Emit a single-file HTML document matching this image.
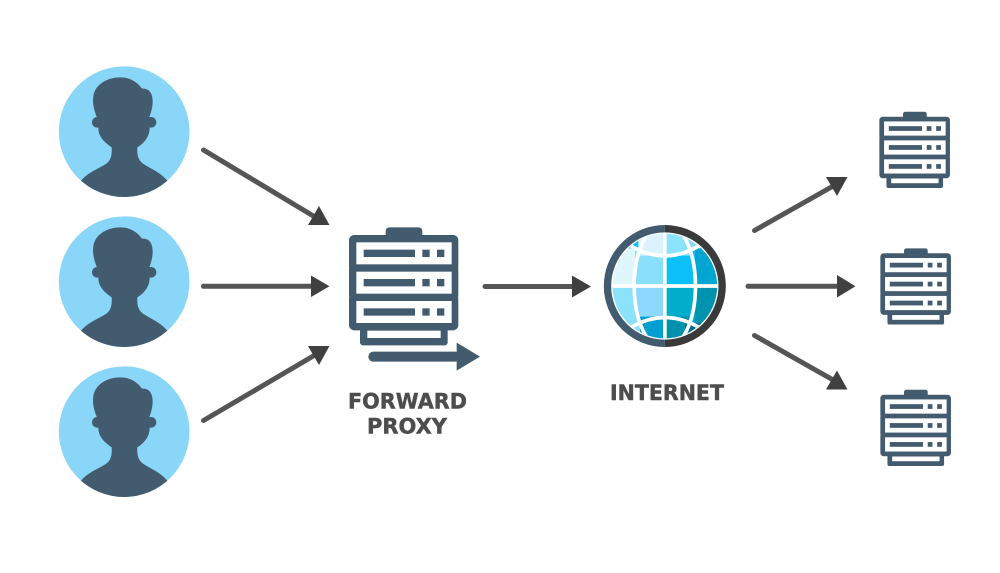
<!DOCTYPE html>
<html>
<head>
<meta charset="utf-8">
<style>
html,body{margin:0;padding:0;background:#fff;width:1000px;height:573px;overflow:hidden}
svg{display:block}
text{font-family:"DejaVu Sans","Liberation Sans",sans-serif;font-weight:bold;fill:#4d4d4d;stroke:#4d4d4d;stroke-width:0.45px;font-size:21.5px}
</style>
</head>
<body>
<svg width="1000" height="573" viewBox="0 0 1000 573" xmlns="http://www.w3.org/2000/svg">
<defs>
<clipPath id="pc"><circle cx="222.5" cy="215" r="196"/></clipPath>
<g id="person">
  <circle cx="222.5" cy="215" r="196" fill="#8ad6f8"/>
  <g clip-path="url(#pc)" fill="#435b6f">
    <circle cx="142" cy="187" r="16"/>
    <circle cx="303" cy="187" r="16"/>
    <path d="M93 362C115 335 150 325 170 310C185 298 186 280 185 262C160 245 145 228 145 204L140 170C132 150 127 130 130 108C136 72 172 52 212 52C240 52 262 66 276 86C296 84 308 98 308 125C308 142 303 158 298 172L299 204C299 228 285 248 262 262C261 282 263 298 278 310C298 325 330 335 352 362L352 420L93 420Z"/>
  </g>
</g>
<g id="server">
  <rect x="152" y="22" width="110" height="40" rx="11" fill="#435b6f"/>
  <rect x="75" y="300" width="263" height="76" rx="9" fill="#435b6f"/>
  <rect x="97" y="332" width="220" height="22" fill="#fff"/>
  <g fill="#435b6f">
    <rect x="42" y="45" width="328" height="110" rx="16"/>
    <rect x="42" y="133" width="328" height="110" rx="16"/>
    <rect x="42" y="221" width="328" height="110" rx="16"/>
  </g>
  <g fill="#fff">
    <rect x="64" y="67" width="286" height="66"/>
    <rect x="64" y="155" width="286" height="66"/>
    <rect x="64" y="243" width="286" height="66"/>
  </g>
  <g fill="#435b6f">
    <rect x="86" y="89" width="154" height="22"/><rect x="262" y="89" width="22" height="22"/><rect x="306" y="89" width="22" height="22"/>
    <rect x="86" y="177" width="154" height="22"/><rect x="262" y="177" width="22" height="22"/><rect x="306" y="177" width="22" height="22"/>
    <rect x="86" y="265" width="154" height="22"/><rect x="262" y="265" width="22" height="22"/><rect x="306" y="265" width="22" height="22"/>
  </g>
</g>
<clipPath id="gc"><circle cx="209.5" cy="213" r="157"/></clipPath>
</defs>

<!-- Clients -->
<use href="#person" transform="translate(50,60) scale(0.33333)"/>
<use href="#person" transform="translate(50,210) scale(0.33333)"/>
<use href="#person" transform="translate(50,360) scale(0.33333)"/>

<!-- Arrows -->
<g stroke="#555" stroke-width="5" stroke-linecap="round" fill="none">
  <line x1="203.500" y1="150" x2="315" y2="217"/>
  <line x1="203.500" y1="286.300" x2="315" y2="286.300"/>
  <line x1="203.500" y1="420.500" x2="315" y2="355"/>
  <line x1="485" y1="286.500" x2="575" y2="286.500"/>
  <line x1="754.500" y1="230.500" x2="835" y2="185"/>
  <line x1="748" y1="286.300" x2="840" y2="286.300"/>
  <line x1="754.500" y1="335.500" x2="835" y2="381"/>
</g>
<g fill="#404040">
  <polygon points="319,206 329.500,225 308,225"/>
  <polygon points="311,275.500 329.500,286.300 311,297"/>
  <polygon points="308,346 329.500,346 319,365"/>
  <polygon points="572,275.500 591,286.500 572,297.500"/>
  <polygon points="826,177 847.500,177 837,196"/>
  <polygon points="837,275 855.500,286.300 837,297.500"/>
  <polygon points="837,370.500 847.500,389.500 826,389.500"/>
</g>

<!-- Forward proxy -->
<use href="#server" transform="translate(335,220) scale(0.33333)"/>
<g transform="translate(335,220) scale(0.33333)" fill="#435b6f">
  <rect x="100" y="395" width="275" height="30" rx="15"/>
  <polygon points="365,368 435,410 365,452"/>
</g>
<text x="407.500" y="408.500" text-anchor="middle" textLength="119" lengthAdjust="spacingAndGlyphs">FORWARD</text>
<text x="407" y="433.500" text-anchor="middle" textLength="80" lengthAdjust="spacingAndGlyphs">PROXY</text>

<!-- Globe -->
<g transform="translate(595,215) scale(0.33333)">
  <g clip-path="url(#gc)">
    <rect x="30" y="30" width="360" height="370" fill="#fff"/>
    <rect x="40" y="100" width="80" height="113" fill="#dff6fd"/>
    <rect x="120" y="100" width="90" height="113" fill="#8ae0fb"/>
    <rect x="210" y="100" width="90" height="113" fill="#0bc0f6"/>
    <rect x="300" y="90" width="80" height="123" fill="#00a6d2"/>
    <rect x="40" y="213" width="80" height="125" fill="#8be3fb"/>
    <rect x="120" y="213" width="90" height="120" fill="#8dd8fe"/>
    <rect x="210" y="213" width="90" height="120" fill="#00aecb"/>
    <rect x="300" y="213" width="80" height="125" fill="#0093b0"/>
    <path d="M40 40H148V92L115 92L100 96H40Z" fill="#dff6fd"/>
    <path d="M95 60H150V100H95Z" fill="#0bc0f6"/>
    <path d="M130 40H210V122H130Z" fill="#dcf2fe"/>
    <path d="M210 40H285V122H210Z" fill="#8ae4fd"/>
    <path d="M270 50H325V100H270Z" fill="#8bd8f9"/>
    <path d="M90 315H150V390H90Z" fill="#8ddcfa"/>
    <path d="M135 305H210V390H135Z" fill="#009fd2"/>
    <path d="M210 305H285V390H210Z" fill="#0091ad"/>
    <path d="M270 325H330V390H270Z" fill="#00688c"/>
    <g fill="none" stroke="#fff" stroke-width="11">
      <ellipse cx="209.500" cy="213" rx="92" ry="190"/>
      <line x1="209.500" y1="30" x2="209.500" y2="400"/>
      <line x1="30" y1="213" x2="390" y2="213"/>
      <path d="M95 85Q210 160 325 85"/>
      <path d="M95 345Q210 270 325 345"/>
    </g>
  </g>
  <path d="M209.500 41A172 172 0 0 0 209.500 385" fill="none" stroke="#435b6f" stroke-width="22"/>
  <path d="M209.500 41A172 172 0 0 1 209.500 385" fill="none" stroke="#3a3a3a" stroke-width="22"/>
</g>
<text x="667" y="400" text-anchor="middle" textLength="114" lengthAdjust="spacingAndGlyphs">INTERNET</text>

<!-- Destination servers -->
<use href="#server" transform="translate(870.300,107) scale(0.2153)"/>
<use href="#server" transform="translate(871.300,243.600) scale(0.2153)"/>
<use href="#server" transform="translate(871.300,385) scale(0.2153)"/>
</svg>
</body>
</html>
